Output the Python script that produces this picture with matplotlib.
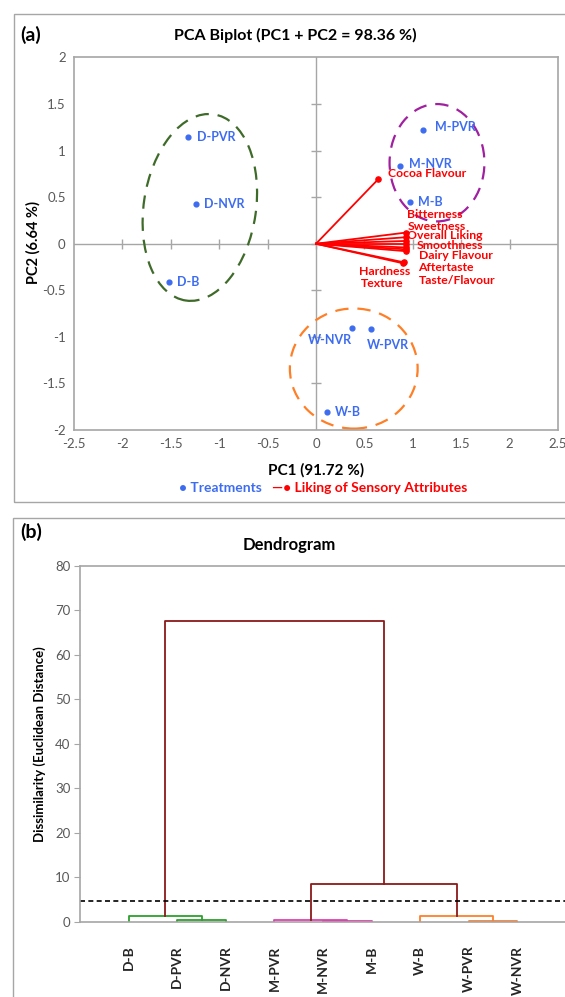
import numpy as np
import matplotlib
matplotlib.use("Agg")
import matplotlib.pyplot as plt
from matplotlib.patches import Ellipse, Rectangle

plt.rcParams["font.family"] = ["Lato", "DejaVu Sans"]

# ---- PCA biplot data ----
treatments = ["D-PVR", "D-NVR", "D-B", "M-PVR", "M-NVR", "M-B", "W-NVR", "W-PVR", "W-B"]
pc1_scores = [-1.32, -1.24, -1.52, 1.11, 0.87, 0.97, 0.37, 0.57, 0.11]
pc2_scores = [1.15, 0.43, -0.41, 1.22, 0.84, 0.45, -0.90, -0.92, -1.81]

attributes = ["Cocoa Flavour", "Bitterness", "Sweetness", "Overall Liking", "Smoothness",
              "Dairy Flavour", "Aftertaste", "Taste/Flavour", "Hardness", "Texture"]
pc1_loadings = [0.64, 0.93, 0.93, 0.93, 0.93, 0.93, 0.93, 0.93, 0.90, 0.91]
pc2_loadings = [0.69, 0.12, 0.07, 0.03, 0.00, -0.04, -0.06, -0.08, -0.21, -0.20]

# ---- dendrogram data ----
leaves = ["D-B", "D-PVR", "D-NVR", "M-PVR", "M-NVR", "M-B", "W-B", "W-PVR", "W-NVR"]
merge_pairs = [(1, 2), (0, 9), (4, 5), (3, 11), (7, 8), (6, 13), (12, 14), (10, 15)]
merge_heights = [0.35, 1.3, 0.2, 0.35, 0.2, 1.3, 8.5, 67.5]
merge_colors = ["#2ca02c", "#2ca02c", "#e040b0", "#e040b0", "#ff7f27", "#ff7f27",
                "#8b1a1a", "#8b1a1a"]
cut_height = 4.8

blue = "#3d6cf0"
red = "#ff0000"
grey = "#a6a6a6"
tick_col = "#595959"

W, H = 565, 997
fig = plt.figure(figsize=(W / 100, H / 100), dpi=100)

def fx(px):
    return px / W

def fy(py):
    return 1 - py / H

# panel frames
fig.patches.append(Rectangle((fx(14), fy(502)), fx(560), fy(14) - fy(502),
                             transform=fig.transFigure, fill=False, ec=grey, lw=1))
fig.patches.append(Rectangle((fx(13), fy(1000)), fx(560), fy(518) - fy(1000),
                             transform=fig.transFigure, fill=False, ec=grey, lw=1))

# ================= (a) PCA biplot =================
ax = fig.add_axes([fx(74), fy(430), fx(558 - 74), fy(57.5) - fy(430)])
ax.set_xlim(-2.5, 2.5)
ax.set_ylim(-2, 2)
for s in ax.spines.values():
    s.set_color(grey)
    s.set_linewidth(1.2)
xt = np.arange(-2.5, 2.51, 0.5)
yt = np.arange(-2, 2.01, 0.5)
ax.set_xticks(xt)
ax.set_yticks(yt)
ax.set_xticklabels(["%g" % v for v in xt])
ax.set_yticklabels(["%g" % v for v in yt])
ax.tick_params(length=0, labelsize=9.5, colors=tick_col, pad=6)

ax.axhline(0, color=grey, lw=1, zorder=1)
ax.axvline(0, color=grey, lw=1, zorder=1)
ax.plot(xt[1:-1], np.zeros(len(xt) - 2), ls="none", marker="|", ms=7, color=grey, mew=1)
ax.plot(np.zeros(len(yt) - 2), yt[1:-1], ls="none", marker="_", ms=7, color=grey, mew=1)

# cluster ellipses
ax.add_patch(Ellipse((-1.2, 0.39), 1.16, 2.02, angle=-8, fill=False, ec="#3f6b2a",
                     lw=1.6, ls=(0, (6, 4))))
ax.add_patch(Ellipse((1.25, 0.87), 0.98, 1.26, angle=0, fill=False, ec="#a020a0",
                     lw=1.6, ls=(0, (6, 4))))
ax.add_patch(Ellipse((0.39, -1.34), 1.32, 1.29, angle=0, fill=False, ec="#ff7f27",
                     lw=1.6, ls=(0, (6, 4))))

# loadings
for x, y in zip(pc1_loadings, pc2_loadings):
    ax.plot([0, x], [0, y], color=red, lw=1.3, zorder=3)
ax.scatter(pc1_loadings, pc2_loadings, s=14, color=red, zorder=4)

attr_offsets = [(7, 4), (1, 13), (1, 8), (1, 4), (8, -1), (9, -6), (9, -13), (9, -21),
                (-32, -6), (-31, -15)]
for name, x, y, off in zip(attributes, pc1_loadings, pc2_loadings, attr_offsets):
    ax.annotate(name, (x, y), xytext=off, textcoords="offset points", color=red,
                fontsize=8.8, fontweight="bold", va="center", ha="left")

# scores
ax.scatter(pc1_scores, pc2_scores, s=12, color=blue, zorder=5)
score_offsets = [(6, 0), (6, 0), (6, 0), (8, 2), (6, 1), (6, 0), (-16, -9), (12, -11), (6, 0)]
score_ha = ["left", "left", "left", "left", "left", "left", "center", "center", "left"]
for name, x, y, off, ha in zip(treatments, pc1_scores, pc2_scores, score_offsets, score_ha):
    ax.annotate(name, (x, y), xytext=off, textcoords="offset points", color=blue,
                fontsize=9, fontweight="bold", va="center", ha=ha)

fig.text(fx(31), fy(35), "(a)", fontsize=14, fontweight="bold", ha="center", va="center")
fig.text(fx(295), fy(35), "PCA Biplot (PC1 + PC2 = 98.36 %)", fontsize=11.5,
         fontweight="bold", ha="center", va="center")
fig.text(fx(316), fy(470), "PC1 (91.72 %)", fontsize=11, fontweight="bold",
         ha="center", va="center")
fig.text(fx(33), fy(243), "PC2 (6.64 %)", fontsize=10.5, fontweight="bold",
         ha="center", va="center", rotation=90)
fig.text(fx(262), fy(488), "\u2022 Treatments", fontsize=10, fontweight="bold",
         color=blue, ha="right", va="center")
fig.text(fx(272), fy(488), "\u2014\u2022 Liking of Sensory Attributes", fontsize=10,
         fontweight="bold", color=red, ha="left", va="center")

# ================= (b) dendrogram =================
bx = fig.add_axes([fx(80), fy(922), fx(566 - 80), fy(565.7) - fy(922)])
bx.set_xlim(0, 10)
bx.set_ylim(0, 80)

node_x = list(range(1, len(leaves) + 1))
node_h = [0.0] * len(leaves)
for (a, b), h, c in zip(merge_pairs, merge_heights, merge_colors):
    xa, xb = node_x[a], node_x[b]
    bx.plot([xa, xa, xb, xb], [node_h[a], h, h, node_h[b]], color=c, lw=1.3)
    node_x.append((xa + xb) / 2)
    node_h.append(h)

bx.axhline(cut_height, color="black", lw=1.2, ls=(0, (3, 2)))

bx.spines["right"].set_visible(False)
for k in ["left", "bottom", "top"]:
    bx.spines[k].set_color(grey)
    bx.spines[k].set_linewidth(1.2)
bx.set_yticks(np.arange(0, 81, 10))
bx.tick_params(axis="y", length=4, color=grey, labelsize=9.5, labelcolor=tick_col, pad=3)
bx.set_xticks(range(1, len(leaves) + 1))
bx.set_xticklabels(leaves, rotation=90, fontsize=10, fontweight="bold", color="#262626")
bx.tick_params(axis="x", length=0, pad=17)

fig.text(fx(31), fy(532), "(b)", fontsize=14, fontweight="bold", ha="center", va="center")
fig.text(fx(289), fy(545), "Dendrogram", fontsize=12, fontweight="bold",
         ha="center", va="center")
fig.text(fx(40), fy(744), "Dissimilarity (Euclidean Distance)", fontsize=9.5,
         fontweight="bold", ha="center", va="center", rotation=90)

fig.savefig("out.png", dpi=100)
